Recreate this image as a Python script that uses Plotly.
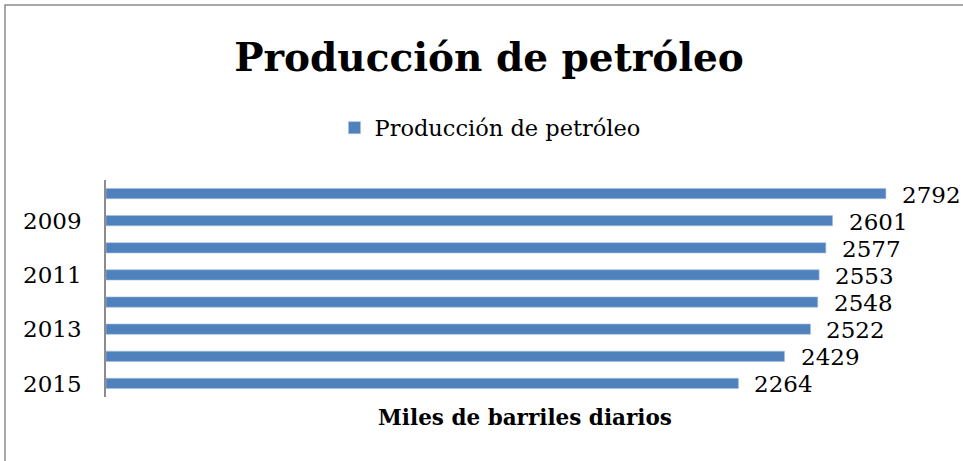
import plotly.graph_objects as go

years = [2008, 2009, 2010, 2011, 2012, 2013, 2014, 2015]
produccion = [2792, 2601, 2577, 2553, 2548, 2522, 2429, 2264]
tick_years = [2009, 2011, 2013, 2015]

serif = "DejaVu Serif"
blue = "#4F81BD"

fig = go.Figure()
fig.add_trace(go.Bar(
    x=produccion, y=years, orientation="h",
    name="Producción de petróleo",
    marker=dict(color=blue, line=dict(color="#A7BFDE", width=0.6)),
    width=0.38,
))

for yr, v in zip(years, produccion):
    fig.add_annotation(x=v, y=yr, xref="x", yref="y", text=str(v),
                       showarrow=False, xanchor="left", yanchor="middle",
                       xshift=14, yshift=-1,
                       font=dict(family=serif, size=23, color="#000"))

# outer chart frame
fig.add_shape(type="rect", xref="paper", yref="paper",
              x0=(5 - 106) / 838, x1=1.2, y0=-1.0, y1=1 + (180 - 5) / 217,
              line=dict(color="#8C8C8C", width=1.5), fillcolor="rgba(0,0,0,0)",
              layer="below")

fig.update_layout(
    width=963, height=461,
    margin=dict(l=106, r=19, t=180, b=64),
    paper_bgcolor="white", plot_bgcolor="white",
    font=dict(family=serif, color="#000"),
    title=dict(text="<b>Producción de petróleo</b>", x=489 / 963, xref="container",
               xanchor="center", y=1 - 57 / 461, yref="container", yanchor="middle",
               font=dict(family=serif, size=39, color="#000")),
    showlegend=True,
    legend=dict(orientation="h", x=(490 - 106) / 838, xanchor="center",
                y=1 + (180 - 128) / 217, yanchor="middle",
                font=dict(family=serif, size=22.5, color="#000"),
                itemwidth=30),
    xaxis=dict(range=[0, 3000], showticklabels=False, showgrid=False,
               zeroline=False, showline=False, ticks="",
               title=dict(text="<b>Miles de barriles diarios</b>", standoff=12,
                          font=dict(family=serif, size=21.5, color="#000"))),
    yaxis=dict(range=[max(years) + 0.5, min(years) - 0.5], tickmode="array",
               tickvals=tick_years, ticktext=[str(t) for t in tick_years],
               showgrid=False, zeroline=False,
               showline=True, linecolor="#8C8C8C", linewidth=1.5, ticks="",
               ticklabelstandoff=18,
               tickfont=dict(family=serif, size=23, color="#000")),
)

fig.write_html("out.html", config={"displayModeBar": False},
               post_script="document.body.style.margin='0';")
